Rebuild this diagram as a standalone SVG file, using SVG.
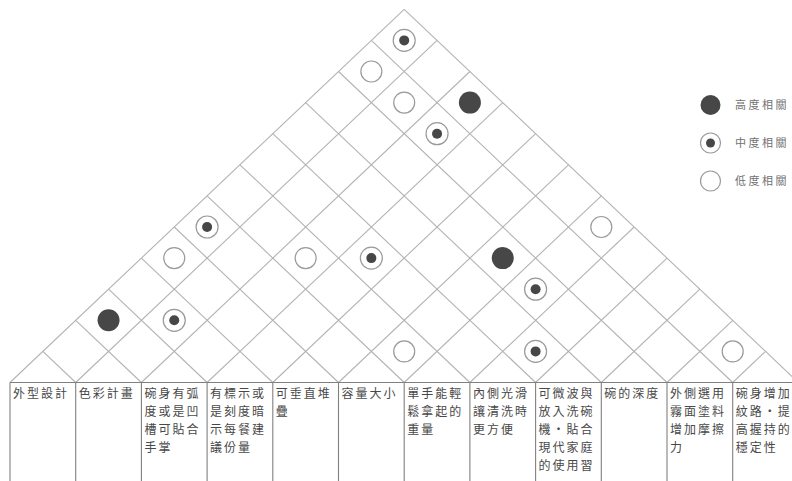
<svg xmlns="http://www.w3.org/2000/svg" width="792" height="481" viewBox="0 0 792 481">
<defs>
<style>
.g{stroke:#b3b3b3;stroke-width:1.1;fill:none}
.t{stroke:#808080;stroke-width:1.1;fill:none}
.hi{fill:#474747}
.lo{fill:#fff;stroke:#9a9a9a;stroke-width:1.2}
.md{fill:#fff;stroke:#9a9a9a;stroke-width:1.2}
.dot{fill:#474747}
.tx{font-family:"Noto Sans CJK TC","Noto Sans CJK SC",sans-serif;font-size:12px;letter-spacing:2px;fill:#484848}
.lg{font-family:"Noto Sans CJK TC","Noto Sans CJK SC",sans-serif;font-size:11px;letter-spacing:2.5px;fill:#707070}
</style>
<g id="high"><circle class="hi" r="11"/></g>
<g id="med"><circle class="md" r="11"/><circle class="dot" r="5"/></g>
<g id="low"><circle class="lo" r="10.5"/></g>
</defs>
<rect width="792" height="481" fill="#fff"/>
<g id="connectors">
<g id="grid-up-right" class="g">
<line x1="10" y1="382.5" x2="404.2" y2="9.3"/>
<line x1="75.7" y1="382.5" x2="437.05" y2="40.4"/>
<line x1="141.4" y1="382.5" x2="469.9" y2="71.5"/>
<line x1="207.1" y1="382.5" x2="502.75" y2="102.6"/>
<line x1="272.8" y1="382.5" x2="535.6" y2="133.7"/>
<line x1="338.5" y1="382.5" x2="568.45" y2="164.8"/>
<line x1="404.2" y1="382.5" x2="601.3" y2="195.9"/>
<line x1="469.9" y1="382.5" x2="634.15" y2="227.0"/>
<line x1="535.6" y1="382.5" x2="667" y2="258.1"/>
<line x1="601.3" y1="382.5" x2="699.85" y2="289.2"/>
<line x1="667" y1="382.5" x2="732.7" y2="320.3"/>
<line x1="732.7" y1="382.5" x2="765.55" y2="351.4"/>
</g>
<g id="grid-up-left" class="g">
<line x1="75.7" y1="382.5" x2="42.85" y2="351.4"/>
<line x1="141.4" y1="382.5" x2="75.7" y2="320.3"/>
<line x1="207.1" y1="382.5" x2="108.55" y2="289.2"/>
<line x1="272.8" y1="382.5" x2="141.4" y2="258.1"/>
<line x1="338.5" y1="382.5" x2="174.25" y2="227.0"/>
<line x1="404.2" y1="382.5" x2="207.1" y2="195.9"/>
<line x1="469.9" y1="382.5" x2="239.95" y2="164.8"/>
<line x1="535.6" y1="382.5" x2="272.8" y2="133.7"/>
<line x1="601.3" y1="382.5" x2="305.65" y2="102.6"/>
<line x1="667" y1="382.5" x2="338.5" y2="71.5"/>
<line x1="732.7" y1="382.5" x2="371.35" y2="40.4"/>
<line x1="798.4" y1="382.5" x2="404.2" y2="9.3"/>
</g>
<g id="table-lines" class="t">
<line x1="10" y1="382.5" x2="792" y2="382.5"/>
<line x1="10" y1="382.5" x2="10" y2="481"/>
<line x1="75.7" y1="382.5" x2="75.7" y2="481"/>
<line x1="141.4" y1="382.5" x2="141.4" y2="481"/>
<line x1="207.1" y1="382.5" x2="207.1" y2="481"/>
<line x1="272.8" y1="382.5" x2="272.8" y2="481"/>
<line x1="338.5" y1="382.5" x2="338.5" y2="481"/>
<line x1="404.2" y1="382.5" x2="404.2" y2="481"/>
<line x1="469.9" y1="382.5" x2="469.9" y2="481"/>
<line x1="535.6" y1="382.5" x2="535.6" y2="481"/>
<line x1="601.3" y1="382.5" x2="601.3" y2="481"/>
<line x1="667" y1="382.5" x2="667" y2="481"/>
<line x1="732.7" y1="382.5" x2="732.7" y2="481"/>
</g>
</g>
<g id="correlations">
<use id="c1-12" href="#med" x="404.2" y="40.4"/>
<use id="c1-11" href="#low" x="371.35" y="71.5"/>
<use id="c2-11" href="#low" x="404.2" y="102.6"/>
<use id="c3-12" href="#high" x="469.9" y="102.6"/>
<use id="c3-11" href="#med" x="437.05" y="133.7"/>
<use id="c7-12" href="#low" x="601.3" y="227"/>
<use id="c1-6" href="#med" x="207.1" y="227"/>
<use id="c1-5" href="#low" x="174.25" y="258.1"/>
<use id="c3-7" href="#low" x="305.65" y="258.1"/>
<use id="c4-8" href="#med" x="371.35" y="258.1"/>
<use id="c6-10" href="#high" x="502.75" y="258.1"/>
<use id="c7-10" href="#med" x="535.6" y="289.2"/>
<use id="c1-3" href="#high" x="108.55" y="320.3"/>
<use id="c2-4" href="#med" x="174.25" y="320.3"/>
<use id="c6-7" href="#low" x="404.2" y="351.4"/>
<use id="c8-9" href="#med" x="535.6" y="351.4"/>
<use id="c11-12" href="#low" x="732.7" y="351.4"/>
</g>
<g id="col1"><text class="tx" x="13" y="398">外型設計</text></g>
<g id="col2"><text class="tx" x="78.7" y="398">色彩計畫</text></g>
<g id="col3"><text class="tx" x="144.4" y="398"><tspan x="144.4" y="398">碗身有弧</tspan><tspan x="144.4" y="416">度或是凹</tspan><tspan x="144.4" y="434">槽可貼合</tspan><tspan x="144.4" y="452">手掌</tspan></text></g>
<g id="col4"><text class="tx" x="210.1" y="398"><tspan x="210.1" y="398">有標示或</tspan><tspan x="210.1" y="416">是刻度暗</tspan><tspan x="210.1" y="434">示每餐建</tspan><tspan x="210.1" y="452">議份量</tspan></text></g>
<g id="col5"><text class="tx" x="275.8" y="398"><tspan x="275.8" y="398">可垂直堆</tspan><tspan x="275.8" y="416">疊</tspan></text></g>
<g id="col6"><text class="tx" x="341.5" y="398">容量大小</text></g>
<g id="col7"><text class="tx" x="407.2" y="398"><tspan x="407.2" y="398">單手能輕</tspan><tspan x="407.2" y="416">鬆拿起的</tspan><tspan x="407.2" y="434">重量</tspan></text></g>
<g id="col8"><text class="tx" x="472.9" y="398"><tspan x="472.9" y="398">內側光滑</tspan><tspan x="472.9" y="416">讓清洗時</tspan><tspan x="472.9" y="434">更方便</tspan></text></g>
<g id="col9"><text class="tx" x="538.6" y="398"><tspan x="538.6" y="398">可微波與</tspan><tspan x="538.6" y="416">放入洗碗</tspan><tspan x="538.6" y="434">機・貼合</tspan><tspan x="538.6" y="452">現代家庭</tspan><tspan x="538.6" y="470">的使用習</tspan></text></g>
<g id="col10"><text class="tx" x="604.3" y="398">碗的深度</text></g>
<g id="col11"><text class="tx" x="670" y="398"><tspan x="670" y="398">外側選用</tspan><tspan x="670" y="416">霧面塗料</tspan><tspan x="670" y="434">增加摩擦</tspan><tspan x="670" y="452">力</tspan></text></g>
<g id="col12"><text class="tx" x="735.7" y="398"><tspan x="735.7" y="398">碗身增加</tspan><tspan x="735.7" y="416">紋路・提</tspan><tspan x="735.7" y="434">高握持的</tspan><tspan x="735.7" y="452">穩定性</tspan></text></g>
<g id="legend">
<g id="legend-high"><circle class="hi" cx="710.5" cy="105" r="10"/><text class="lg" x="735" y="109">高度相關</text></g>
<g id="legend-med"><circle class="md" cx="710.5" cy="143" r="10"/><circle class="dot" cx="710.5" cy="143" r="4.5"/><text class="lg" x="735" y="147">中度相關</text></g>
<g id="legend-low"><circle class="lo" cx="710.5" cy="181" r="10"/><text class="lg" x="735" y="185">低度相關</text></g>
</g>
</svg>
